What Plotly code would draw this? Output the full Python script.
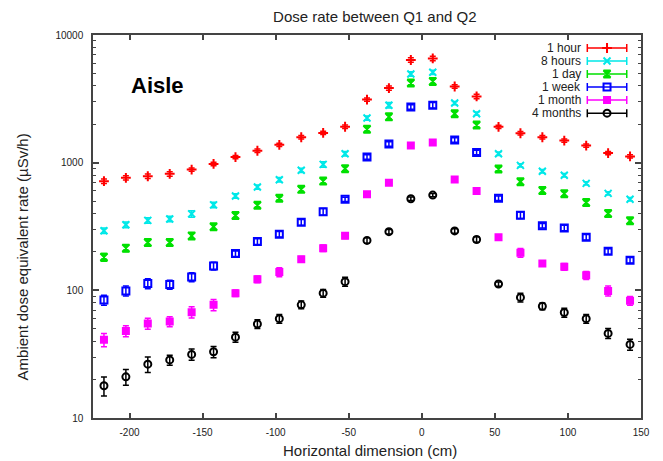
import plotly.graph_objects as go

# ---- data ----
x_cm = [-217.5, -202.5, -187.5, -172.5, -157.5, -142.5, -127.5, -112.5, -97.5, -82.5,
        -67.5, -52.5, -37.5, -22.5, -7.5, 7.5, 22.5, 37.5, 52.5, 67.5,
        82.5, 97.5, 112.5, 127.5, 142.5]

series_names = ["1 hour", "8 hours", "1 day", "1 week", "1 month", "4 months"]

hour1 = [716, 761, 783, 817, 883, 977, 1107, 1240, 1380, 1582, 1710, 1911, 3120, 3840,
         6370, 6550, 3950, 3300, 1910, 1700, 1582, 1490, 1362, 1189, 1119]
hours8 = [293, 326, 353, 362, 397, 467, 548, 644, 735, 871, 970, 1175, 2235, 2820,
          4950, 5100, 2930, 2420, 1175, 953, 857, 797, 688, 575, 517]
day1 = [182, 214, 237, 237, 267, 315, 386, 464, 526, 618, 717, 898, 1825, 2285,
        4210, 4330, 2420, 1970, 893, 708, 606, 572, 487, 400, 351]
week1 = [84, 99, 113, 111, 127, 155, 194, 241, 275, 341, 412, 516, 1107, 1403,
         2730, 2820, 1507, 1202, 526, 388, 321, 308, 261, 202, 172]
month1 = [41, 48, 55, 57, 67.5, 77, 95, 122, 139, 175, 214, 268, 565, 697,
          1362, 1437, 738, 600, 261, 197, 162, 153, 131, 99, 83]
months4 = [17.9, 21, 26.4, 28.5, 31.5, 33, 43, 54.5, 60, 77, 95, 117, 246, 288,
           522, 557, 292, 250, 112, 88, 75, 67, 60, 46, 37.7]

# relative uncertainties (%)
err_hour1 = [4, 4, 4, 4, 3, 3, 3, 3, 3, 3, 3, 3, 3, 4, 4, 4, 3, 4, 3, 3, 3, 3, 3, 3, 3]
err_hours8 = [5, 5, 5, 5, 6, 5, 4, 4, 4, 4, 5, 4, 4, 5, 4, 4, 3, 3, 3, 3, 3, 3, 3, 3, 3]
err_day1 = [7, 6, 6, 5, 6, 5, 4, 4, 3, 4, 5, 4, 4, 4, 4, 4, 4, 4, 3, 5, 4, 4, 4, 4, 5]
err_week1 = [9, 9, 9, 8, 8, 7, 5, 5, 5, 5, 6, 4, 4, 4, 4, 5, 4, 4, 4, 6, 4, 5, 5, 5, 5]
err_month1 = [12, 10, 10, 9, 10, 10, 6, 6, 8, 5, 6, 5, 4, 4, 3, 3, 4, 4, 4, 8, 4, 6, 7, 9, 8]
err_months4 = [17, 14, 14, 9, 10, 10, 9, 8, 8, 7, 7, 8, 5, 4, 3, 3, 4, 5, 4, 8, 6, 8, 8, 9, 10]

y_ticks = [10, 100, 1000, 10000]
y_ticklabels = ["10", "100", "1000", "10000"]
y_minor = [20, 30, 40, 50, 60, 70, 80, 90, 200, 300, 400, 500, 600, 700, 800, 900,
           2000, 3000, 4000, 5000, 6000, 7000, 8000, 9000]
x_ticks = [-200, -150, -100, -50, 0, 50, 100, 150]
x_ticklabels = ["-200", "-150", "-100", "-50", "0", "50", "100", "150"]

# ---- styles ----
colors = ["#ff0000", "#00e8e8", "#00e000", "#0000ff", "#ff00ff", "#000000"]
symbols = ["cross-thin", "x-thin", "hourglass", "square-open", "square", "circle-open"]
sizes = [7, 7, 7, 7, 6, 7]

all_vals = [hour1, hours8, day1, week1, month1, months4]
all_errs = [err_hour1, err_hours8, err_day1, err_week1, err_month1, err_months4]

fig = go.Figure()
for name, vals, errs, c, s, sz in zip(series_names, all_vals, all_errs, colors, symbols, sizes):
    fig.add_trace(go.Scatter(
        x=x_cm, y=vals, mode="markers", name=name, showlegend=False,
        marker=dict(color=c, symbol=s, size=sz, line=dict(color=c, width=2)),
        error_y=dict(type="data", array=[v * e / 100 for v, e in zip(vals, errs)],
                     color=c, thickness=1.5, width=3),
    ))

# ---- custom gnuplot-style key (text left, sample right) ----
key_x = 0.938
key_half = 0.036
key_y0 = 0.966
key_dy = 0.034
for i, (name, c, s, sz) in enumerate(zip(series_names, colors, symbols, sizes)):
    ky = key_y0 - i * key_dy
    fig.add_trace(go.Scatter(
        x=[key_x], y=[ky], xaxis="x2", yaxis="y2", mode="markers", showlegend=False,
        hoverinfo="skip",
        marker=dict(color=c, symbol=s, size=sz, line=dict(color=c, width=2)),
        error_x=dict(type="constant", value=key_half, color=c, thickness=1.5, width=4),
    ))
    fig.add_annotation(x=0.893, y=ky, xref="paper", yref="paper", text=name,
                       showarrow=False, xanchor="right", yanchor="middle", borderpad=0,
                       font=dict(family="Liberation Sans, Arial", size=12, color="#222"))

fig.add_annotation(x=0.117, y=0.869, xref="paper", yref="paper", text="<b>Aisle</b>",
                   showarrow=False, xanchor="center", yanchor="middle",
                   font=dict(family="Liberation Sans, Arial", size=22, color="#000"))

# axis titles placed like the gnuplot original
fig.add_annotation(x=-0.129, y=0.42, xref="paper", yref="paper",
                   text="Ambient dose equivalent rate (\u00b5Sv/h)", textangle=-90,
                   showarrow=False, xanchor="center", yanchor="middle",
                   font=dict(family="Liberation Sans, Arial", size=15, color="#222"))
fig.add_annotation(x=0.505, y=-0.084, xref="paper", yref="paper",
                   text="Horizontal dimension (cm)",
                   showarrow=False, xanchor="center", yanchor="middle",
                   font=dict(family="Liberation Sans, Arial", size=15, color="#222"))

axis_col = "#444"
fig.update_layout(
    width=655, height=453,
    margin=dict(l=85, r=22, t=27, b=43),
    paper_bgcolor="white", plot_bgcolor="white",
    font=dict(family="Liberation Sans, Arial", size=11, color="#222"),
    title=dict(text="Dose rate between Q1 and Q2", x=0.56, y=0.993, yref="container",
               xanchor="center", yanchor="top", pad=dict(t=0, b=0),
               font=dict(size=15, color="#222")),
    xaxis=dict(range=[-225, 150], tickvals=x_ticks, ticktext=x_ticklabels,
               ticks="inside", ticklen=5, tickwidth=1.5, tickcolor=axis_col,
               showline=True, linecolor=axis_col, linewidth=1.5, mirror="allticks",
               showgrid=False, zeroline=False, ticklabelstandoff=4,
               tickfont=dict(size=10)),
    yaxis=dict(type="log", range=[1, 4], tickvals=y_ticks, ticktext=y_ticklabels,
               ticks="inside", ticklen=6, tickwidth=1.5, tickcolor=axis_col,
               showline=True, linecolor=axis_col, linewidth=1.5, mirror="allticks",
               showgrid=False, zeroline=False, ticklabelstandoff=6,
               tickfont=dict(size=10),
               minor=dict(tickmode="array", tickvals=y_minor, ticks="inside", ticklen=3,
                          tickwidth=1.2, tickcolor=axis_col, showgrid=False)),
    xaxis2=dict(overlaying="x", range=[0, 1], visible=False, anchor="y2"),
    yaxis2=dict(overlaying="y", range=[0, 1], visible=False, anchor="x2"),
)

fig.write_html("out.html")
